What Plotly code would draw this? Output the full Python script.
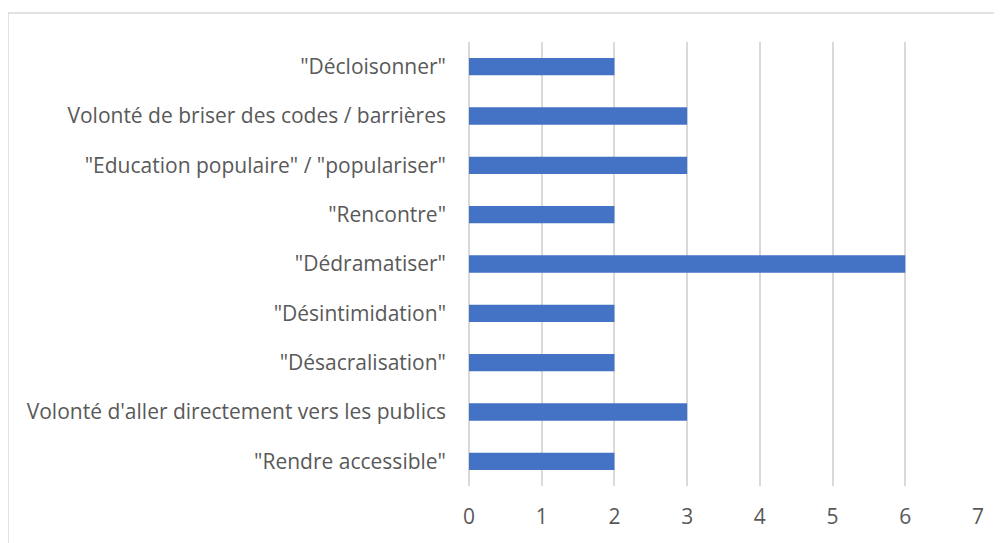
import plotly.graph_objects as go

categories = [
    '"Rendre accessible"',
    "Volonté d'aller directement vers les publics",
    '"Désacralisation"',
    '"Désintimidation"',
    '"Dédramatiser"',
    '"Rencontre"',
    '"Education populaire" / "populariser"',
    "Volonté de briser des codes / barrières",
    '"Décloisonner"',
]
values = [2, 3, 2, 2, 6, 2, 3, 3, 2]
x_ticks = [0, 1, 2, 3, 4, 5, 6, 7]

# page body has an 8px margin; figure sized to fit the viewport
OFF = 8
W, H = 994, 535
L, R = 469 - OFF, W - (978 - OFF)
T, B = 42 - OFF, H - (486 - OFF)
pw, ph = W - L - R, H - T - B

fig = go.Figure(go.Bar(
    x=values, y=categories, orientation="h",
    marker=dict(color="#4472C4", line=dict(width=0)),
))

font_family = "Open Sans, Liberation Sans, sans-serif"
fig.update_layout(
    width=W, height=H,
    margin=dict(l=L, r=R, t=T, b=B, pad=0),
    paper_bgcolor="white", plot_bgcolor="white",
    bargap=0.65,
    showlegend=False,
    font=dict(family=font_family, size=21, color="#595959"),
    xaxis=dict(
        range=[0, 7], tickvals=x_ticks, showgrid=True, gridcolor="#d9d9d9",
        gridwidth=1.5, zeroline=True, zerolinecolor="#d9d9d9", zerolinewidth=1.5,
        showline=False, ticks="", ticklabelstandoff=16,
        tickfont=dict(size=21, color="#595959"),
    ),
    yaxis=dict(
        categoryorder="array", categoryarray=categories,
        showgrid=False, showline=False, ticks="", ticklabelstandoff=22,
        tickfont=dict(size=21, color="#595959"),
    ),
    shapes=[dict(
        type="rect", xref="paper", yref="paper",
        x0=(8 - OFF - L) / pw, x1=(W + 5 - L) / pw,
        y0=-(H + 5 - (T + ph)) / ph, y1=(T + ph - (13 - OFF)) / ph,
        line=dict(color="#d9d9d9", width=1.5), fillcolor="rgba(0,0,0,0)",
        layer="below",
    )],
)

fig.write_html("out.html")
